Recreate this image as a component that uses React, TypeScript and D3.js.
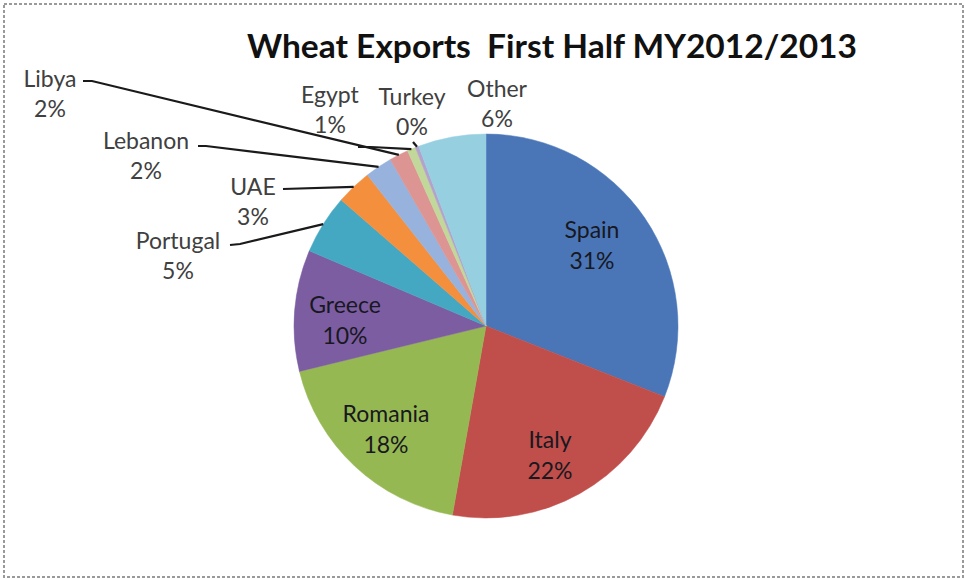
import React from "react";
import * as d3 from "d3";

const categories = ["Spain", "Italy", "Romania", "Greece", "Portugal", "UAE", "Lebanon", "Libya", "Egypt", "Turkey", "Other"];
const values = [31.0, 21.8, 18.4, 10.2, 5.0, 3.0, 2.3, 1.6, 0.7, 0.3, 5.7];
const colors = ["#4a76b8", "#c04e4b", "#96b853", "#7c5da2", "#45a8c2", "#f48f3e", "#97b2dc", "#dc9593", "#c2d89a", "#b3a2cb", "#95cfe0"];
const titleText = "Wheat Exports  First Half MY2012/2013";

// label layout (positions of text, not data)
const insideLabels: Record<string, [number, number]> = {
  Spain: [592, 238],
  Italy: [550, 448],
  Romania: [386, 422],
  Greece: [345, 313],
};
const outsideLabels: Record<string, { x: number; y: number; leader: [number, number][] | null }> = {
  Libya: { x: 50, y: 87, leader: [[83, 81], [92, 81]] },
  Lebanon: { x: 146, y: 149, leader: [[198, 146], [206, 146]] },
  UAE: { x: 253, y: 195, leader: [[283, 189]] },
  Portugal: { x: 178, y: 249, leader: [[230, 245], [240, 244]] },
  Egypt: { x: 330, y: 103, leader: [[358, 147], [371, 147]] },
  Turkey: { x: 412, y: 105, leader: [[413, 142]] },
  Other: { x: 497, y: 97, leader: null },
};

const W = 965;
const H = 579;
const cx = 486;
const cy = 326;
const R = 192;

export default function App() {
  const total = d3.sum(values);
  const data = categories.map((c, i) => ({ name: c, value: values[i], color: colors[i] }));
  const pie = d3.pie<any>().value((d: any) => d.value).sort(null).startAngle(0).endAngle(2 * Math.PI);
  const arcs = pie(data);
  const arc = d3.arc<any>().innerRadius(0).outerRadius(R);
  const pct = (v: number) => Math.round((v / total) * 100) + "%";
  const lineGen = d3.line();

  return (
    <svg width={W} height={H} style={{ position: "absolute", left: 0, top: 0, background: "#fff" }}>
      <rect x={0} y={0} width={W} height={H} fill="#fff" />
      <rect x={4} y={4} width={W - 6} height={H - 6} fill="none" stroke="#9a9a9a" strokeWidth={2} strokeDasharray="3,2" />
      <text x={552} y={58} textAnchor="middle" fontFamily="Lato, 'Open Sans', sans-serif" fontWeight="bold" fontSize={33} fill="#111" textLength={610} lengthAdjust="spacingAndGlyphs" style={{ whiteSpace: "pre" }}>
        {titleText}
      </text>
      <g transform={`translate(${cx},${cy})`}>
        {arcs.map((a, i) => (
          <path key={i} d={arc(a) as string} fill={a.data.color} stroke={a.data.color} strokeWidth={0.5} />
        ))}
      </g>
      {arcs.map((a, i) => {
        const name = a.data.name;
        const ins = insideLabels[name];
        if (ins) {
          return (
            <g key={"in" + i} fontFamily="Lato, 'Open Sans', sans-serif" fontSize={23} fill="#18181f" textAnchor="middle">
              <text x={ins[0]} y={ins[1]}>{name}</text>
              <text x={ins[0]} y={ins[1] + 31}>{pct(a.data.value)}</text>
            </g>
          );
        }
        const out = outsideLabels[name];
        if (!out) return null;
        const mid = (a.startAngle + a.endAngle) / 2;
        const edge: [number, number] = [cx + R * Math.sin(mid), cy - R * Math.cos(mid)];
        return (
          <g key={"out" + i}>
            {out.leader && (
              <path d={lineGen([...out.leader, edge]) as string} fill="none" stroke="#1a1a1a" strokeWidth={2.2} />
            )}
            <g fontFamily="Lato, 'Open Sans', sans-serif" fontSize={23} fill="#404040" textAnchor="middle">
              <text x={out.x} y={out.y}>{name}</text>
              <text x={out.x} y={out.y + 30}>{pct(a.data.value)}</text>
            </g>
          </g>
        );
      })}
    </svg>
  );
}
